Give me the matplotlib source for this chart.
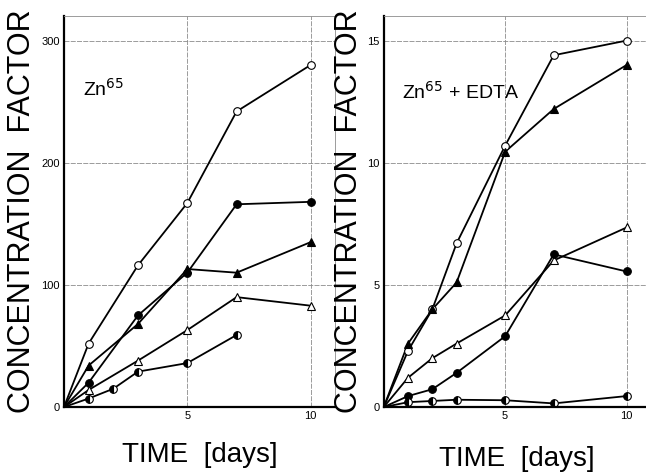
import matplotlib
matplotlib.use("Agg")
import matplotlib.pyplot as plt

plt.rcParams['font.family'] = ['Liberation Sans', 'DejaVu Sans']

# Zn65 alone
days_a = [0, 1, 3, 5, 7, 10]
a_open_circle = [0, 52, 116, 167, 242, 280]
a_filled_circle = [0, 20, 75, 110, 166, 168]
a_filled_tri = [0, 34, 68, 113, 110, 135]
a_open_tri = [0, 14, 38, 63, 90, 83]
days_a_half = [0, 1, 2, 3, 5, 7]
a_half_circle = [0, 7, 15, 29, 36, 59]

# Zn65 + EDTA
days_b = [0, 1, 2, 3, 5, 7, 10]
b_open_circle = [0, 2.3, 4.0, 6.7, 10.7, 14.4, 15.0]
b_filled_tri = [0, 2.6, 4.0, 5.1, 10.45, 12.2, 14.0]
b_open_tri = [0, 1.2, 2.0, 2.6, 3.75, 6.0, 7.35]
b_filled_circle = [0, 0.45, 0.73, 1.4, 2.9, 6.25, 5.55]
b_half_circle = [0, 0.2, 0.25, 0.3, 0.28, 0.15, 0.45]

fig = plt.figure(figsize=(6.46, 4.75), dpi=100)
ax1 = fig.add_axes([0.099, 0.143, 0.42, 0.823])
ax2 = fig.add_axes([0.594, 0.143, 0.406, 0.823])

lw = 1.3
ms = 5.5


def series(ax, x, y, marker, fill):
    if fill == 'half':
        ax.plot(x[1:], y[1:], color='black', lw=0, marker=marker, ms=ms,
                fillstyle='left', markerfacecolor='black',
                markerfacecoloralt='white', markeredgecolor='black', mew=0.8)
    else:
        ax.plot(x[1:], y[1:], color='black', lw=0, marker=marker, ms=ms,
                markerfacecolor=fill, markeredgecolor='black', mew=0.8)
    ax.plot(x, y, color='black', lw=lw, zorder=1)


series(ax1, days_a, a_open_circle, 'o', 'white')
series(ax1, days_a, a_filled_circle, 'o', 'black')
series(ax1, days_a, a_filled_tri, '^', 'black')
series(ax1, days_a, a_open_tri, '^', 'white')
series(ax1, days_a_half, a_half_circle, 'o', 'half')

series(ax2, days_b, b_open_circle, 'o', 'white')
series(ax2, days_b, b_filled_tri, '^', 'black')
series(ax2, days_b, b_open_tri, '^', 'white')
series(ax2, days_b, b_filled_circle, 'o', 'black')
series(ax2, days_b, b_half_circle, 'o', 'half')

ax1.set_xlim(0, 11.0)
ax1.set_ylim(0, 320)
ax1.set_yticks([0, 100, 200, 300])
ax2.set_xlim(0, 10.8)
ax2.set_ylim(0, 16)
ax2.set_yticks([0, 5, 10, 15])

for ax in (ax1, ax2):
    ax.set_xticks([5, 10])
    ax.tick_params(length=0, labelsize=8, pad=3)
    ax.grid(True, color='0.55', lw=0.6, ls=(0, (6, 1.5)))
    ax.set_axisbelow(True)
    ax.spines['left'].set_linewidth(1.6)
    ax.spines['bottom'].set_linewidth(1.6)
    ax.spines['top'].set_color('0.55')
    ax.spines['top'].set_linewidth(0.6)
    ax.spines['right'].set_color('0.55')
    ax.spines['right'].set_linewidth(0.6)

ax1.text(0.77, 255, 'Zn$^{65}$', fontsize=14)
ax2.text(0.74, 12.6, 'Zn$^{65}$ + EDTA', fontsize=14)

fig.text(0.034, 0.555, 'CONCENTRATION  FACTOR', rotation=90, ha='center', va='center', fontsize=22)
fig.text(0.54, 0.555, 'CONCENTRATION  FACTOR', rotation=90, ha='center', va='center', fontsize=22)
fig.text(0.31, 0.042, 'TIME  [days]', ha='center', va='center', fontsize=20)
fig.text(0.80, 0.034, 'TIME  [days]', ha='center', va='center', fontsize=20)

plt.savefig('out.png', dpi=100)
